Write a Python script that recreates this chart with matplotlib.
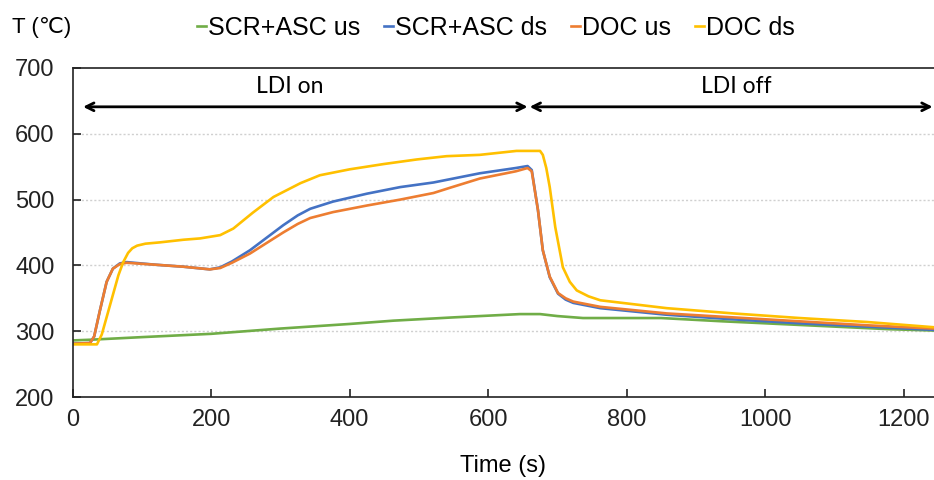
import matplotlib
matplotlib.use("Agg")
import matplotlib.pyplot as plt

plt.rcParams['font.family'] = ['Liberation Sans', 'DejaVu Sans']

# ---- data ----
t_green = [0, 25, 100, 200, 300, 400, 463, 550, 646, 675, 700, 737, 850, 939, 1000, 1060, 1120, 1180, 1244]
scr_us = [286, 287, 291, 296, 304, 311, 316, 321, 326, 326, 323, 320, 320, 315, 312, 309, 306, 303, 301]

t_blue = [0, 25, 31, 39, 49, 58, 68, 78, 120, 160, 198, 213, 230, 256, 280, 304, 325, 343, 376, 425, 473, 521, 545,
          588, 640, 657, 663, 672, 679, 689, 701, 712, 723, 762, 858, 954, 1050, 1147, 1244]
scr_ds = [281, 282, 292, 330, 375, 395, 403, 405, 401, 398, 394, 397, 406, 423, 442, 461, 476, 486, 497, 509, 519, 526, 531,
          540, 548, 551, 545, 484, 423, 382, 357, 348, 343, 335, 325, 318, 312, 307, 302]

t_orange = [0, 25, 31, 39, 49, 58, 68, 78, 120, 160, 198, 213, 230, 256, 280, 304, 325, 343, 376, 425, 473, 521, 545,
            588, 640, 657, 663, 672, 679, 689, 701, 712, 723, 762, 858, 954, 1050, 1147, 1244]
doc_us = [281, 282, 292, 330, 375, 395, 402, 404, 401, 398, 394, 396, 404, 418, 434, 450, 463, 472, 481, 491, 500, 510, 518,
          532, 543, 548, 543, 484, 423, 383, 358, 350, 345, 337, 327, 321, 315, 309, 304]

t_yellow = [0, 35, 42, 50, 58, 66, 73, 80, 86, 93, 105, 126, 160, 184, 213, 232, 260, 290, 329, 357, 400, 449, 497, 540,
            588, 641, 675, 679, 684, 689, 697, 708, 718, 728, 745, 762, 858, 954, 1050, 1147, 1244]
doc_ds = [280, 280, 295, 325, 355, 385, 405, 419, 426, 430, 433, 435, 439, 441, 446, 456, 480, 504, 525, 537, 546, 554, 561, 566,
          568, 574, 574, 568, 548, 519, 458, 397, 375, 362, 353, 347, 335, 327, 320, 314, 306]

series_names = ["SCR+ASC us", "SCR+ASC ds", "DOC us", "DOC ds"]
colors = ["#70AD47", "#4472C4", "#ED7D31", "#FFC000"]
x_ticks = [0, 200, 400, 600, 800, 1000, 1200]
y_ticks = [200, 300, 400, 500, 600, 700]

fig = plt.figure(figsize=(9.34, 4.8), dpi=100)
ax = fig.add_axes([72.7 / 934, 1 - 397 / 480, 1 - 72.7 / 934, (397 - 68) / 480])

lines = []
for tx, ty, c, n in zip([t_green, t_blue, t_orange, t_yellow], [scr_us, scr_ds, doc_us, doc_ds], colors, series_names):
    l, = ax.plot(tx, ty, color=c, lw=1.9, label=n, solid_joinstyle='round')
    lines.append(l)

ax.set_xlim(0, 1244)
ax.set_ylim(200, 700)
ax.set_xticks(x_ticks)
ax.set_yticks(y_ticks)
ax.tick_params(axis='both', direction='in', length=6, width=1.2, labelsize=17, colors='#222222')
ax.tick_params(axis='x', pad=9)
ax.tick_params(axis='y', pad=13)
for g in [300, 400, 500, 600]:
    ax.axhline(g, color='#d0d0d0', lw=1, ls=(0, (1.5, 1.5)), zorder=0)
for s in ['left', 'bottom', 'top']:
    ax.spines[s].set_color('#222222')
    ax.spines[s].set_linewidth(1.2)
ax.spines['right'].set_visible(False)

ax.set_xlabel("Time (s)", fontsize=17, labelpad=17)

# arrows and labels
ax.annotate("", xy=(15, 641), xytext=(657, 641),
            arrowprops=dict(arrowstyle='<->', color='black', lw=2, shrinkA=0, shrinkB=0, mutation_scale=14))
ax.annotate("", xy=(660, 641), xytext=(1242, 641),
            arrowprops=dict(arrowstyle='<->', color='black', lw=2, shrinkA=0, shrinkB=0, mutation_scale=14))
ax.text(314, 672, "LDI on", ha='center', va='center', fontsize=16.5, family=['Lato', 'DejaVu Sans'])
ax.text(958, 672, "LDI off", ha='center', va='center', fontsize=16.5, family=['Lato', 'DejaVu Sans'])

fig.text(12 / 934, 1 - 28 / 480, "T (℃)", ha='left', va='center', fontsize=16,
         family=['Liberation Sans', 'DejaVu Sans'])

fig.legend(handles=lines, loc='center', bbox_to_anchor=(496 / 934, 1 - 28 / 480), ncol=4, frameon=False,
           fontsize=18, handlelength=0.35, handletextpad=0.1, columnspacing=0.95, borderaxespad=0)

fig.savefig("out.png", dpi=100)
